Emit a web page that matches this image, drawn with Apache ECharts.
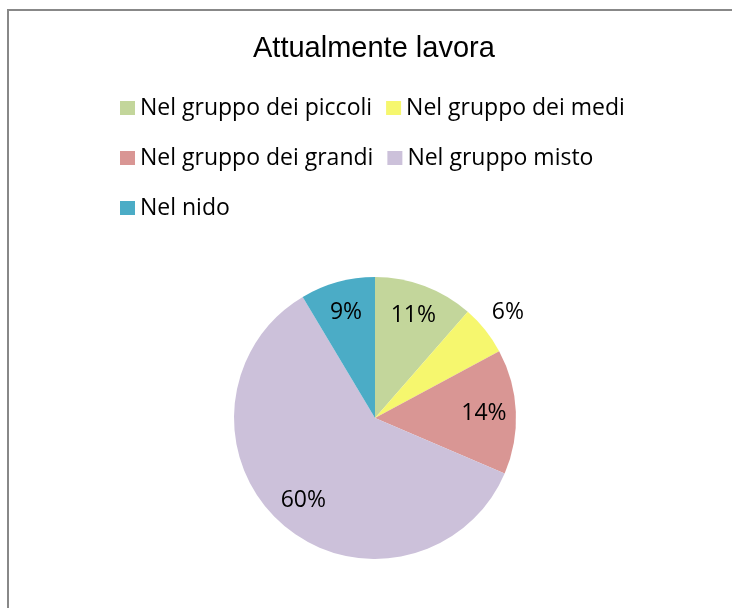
<!DOCTYPE html>
<html>
<head>
<meta charset="utf-8">
<script src="https://cdn.jsdelivr.net/npm/echarts@6/dist/echarts.min.js"></script>
<style>
html,body{margin:0;padding:0;background:#fff;}
#chart{width:732px;height:608px;}
</style>
</head>
<body>
<div id="chart"></div>
<script>
// ---- data ----
const titleText = 'Attualmente lavora';
const categories = ['Nel gruppo dei piccoli', 'Nel gruppo dei medi', 'Nel gruppo dei grandi', 'Nel gruppo misto', 'Nel nido'];
const counts = [8, 4, 10, 42, 6];
const outsideLabelCategory = 'Nel gruppo dei medi';

// ---- style ----
const palette = ['#C3D69B', '#F6F76E', '#D99694', '#CCC1DA', '#4BACC6'];
const labelFont = 'Open Sans';

const chart = echarts.init(document.getElementById('chart'), null, {renderer: 'canvas'});

const mainData = categories.map((c, i) => ({name: c, value: counts[i], itemStyle: {color: palette[i]}}));
const innerLabelData = categories.map((c, i) => ({
  name: c, value: counts[i],
  itemStyle: {color: 'rgba(0,0,0,0)'},
  label: {show: c !== outsideLabelCategory}
}));
const outerLabelData = categories.map((c, i) => ({
  name: c, value: counts[i],
  itemStyle: {color: 'rgba(0,0,0,0)'},
  label: {show: c === outsideLabelCategory}
}));

const labelCommon = {
  position: 'inside',
  formatter: '{d}%',
  color: '#000',
  fontFamily: labelFont,
  fontSize: 23,
  textBorderWidth: 0
};

chart.setOption({
  animation: false,
  backgroundColor: '#fff',
  title: {
    text: titleText,
    left: 253,
    top: 34,
    padding: 0,
    textStyle: {fontFamily: 'Liberation Sans', fontWeight: 'normal', fontSize: 29, color: '#000'}
  },
  legend: {
    data: categories,
    left: 120,
    top: 90,
    width: 540,
    padding: 0,
    orient: 'horizontal',
    icon: 'rect',
    itemWidth: 15,
    itemHeight: 14,
    itemGap: 14,
    selectedMode: false,
    textStyle: {fontFamily: labelFont, fontSize: 23, color: '#000', lineHeight: 36}
  },
  graphic: [{
    type: 'rect',
    shape: {x: 8, y: 10, width: 900, height: 900},
    style: {fill: 'none', stroke: '#888888', lineWidth: 2},
    silent: true
  }],
  series: [
    {
      type: 'pie',
      center: [375, 418],
      radius: [0, 141],
      startAngle: 90,
      clockwise: true,
      percentPrecision: 0,
      label: {show: false},
      labelLine: {show: false},
      emphasis: {disabled: true},
      data: mainData
    },
    {
      type: 'pie',
      center: [375, 418],
      radius: [70, 142],
      startAngle: 90,
      clockwise: true,
      silent: true,
      percentPrecision: 0,
      label: labelCommon,
      labelLine: {show: false},
      emphasis: {disabled: true},
      data: innerLabelData
    },
    {
      type: 'pie',
      center: [375, 418],
      radius: [150, 184],
      startAngle: 90,
      clockwise: true,
      silent: true,
      percentPrecision: 0,
      label: labelCommon,
      labelLine: {show: false},
      emphasis: {disabled: true},
      data: outerLabelData
    }
  ]
});
</script>
</body>
</html>
